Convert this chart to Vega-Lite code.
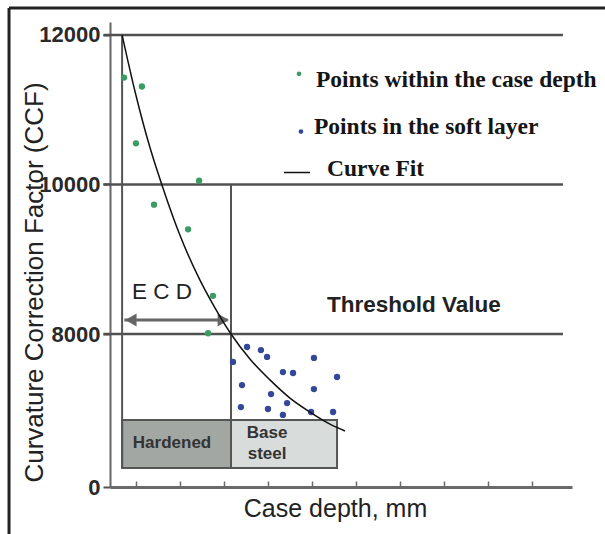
{
  "$schema": "https://vega.github.io/schema/vega-lite/v6.json",
  "width": 462,
  "height": 465,
  "autosize": {"type": "none"},
  "padding": {"left": 110, "top": 22, "right": 33, "bottom": 47},
  "background": "white",
  "config": {"view": {"stroke": null}, "font": "Liberation Sans"},
  "data": {"values": [{}]},
  "datasets": {
    "points": [
      {"depth": 0.44, "ccf": 11430, "layer": "case"},
      {"depth": 1.25, "ccf": 11310, "layer": "case"},
      {"depth": 0.98, "ccf": 10550, "layer": "case"},
      {"depth": 3.85, "ccf": 10050, "layer": "case"},
      {"depth": 1.8, "ccf": 9730, "layer": "case"},
      {"depth": 3.35, "ccf": 9400, "layer": "case"},
      {"depth": 4.48, "ccf": 8510, "layer": "case"},
      {"depth": 4.26, "ccf": 8010, "layer": "case"},
      {"depth": 5.39, "ccf": 6540, "layer": "soft"},
      {"depth": 6.03, "ccf": 7320, "layer": "soft"},
      {"depth": 6.66, "ccf": 7160, "layer": "soft"},
      {"depth": 6.94, "ccf": 6800, "layer": "soft"},
      {"depth": 7.66, "ccf": 6010, "layer": "soft"},
      {"depth": 8.12, "ccf": 5960, "layer": "soft"},
      {"depth": 5.8, "ccf": 5330, "layer": "soft"},
      {"depth": 7.12, "ccf": 4860, "layer": "soft"},
      {"depth": 7.85, "ccf": 4390, "layer": "soft"},
      {"depth": 5.75, "ccf": 4180, "layer": "soft"},
      {"depth": 6.98, "ccf": 4080, "layer": "soft"},
      {"depth": 7.66, "ccf": 3770, "layer": "soft"},
      {"depth": 9.07, "ccf": 6750, "layer": "soft"},
      {"depth": 10.12, "ccf": 5750, "layer": "soft"},
      {"depth": 9.07, "ccf": 5120, "layer": "soft"},
      {"depth": 8.94, "ccf": 3920, "layer": "soft"},
      {"depth": 9.94, "ccf": 3920, "layer": "soft"}
    ],
    "fit": [
      {"depth": 0.35, "ccf": 12000},
      {"depth": 0.94, "ccf": 11240},
      {"depth": 1.62, "ccf": 10490},
      {"depth": 2.21, "ccf": 9950},
      {"depth": 2.98, "ccf": 9320},
      {"depth": 3.89, "ccf": 8720},
      {"depth": 4.57, "ccf": 8350},
      {"depth": 5.3, "ccf": 8000},
      {"depth": 6.16, "ccf": 6690},
      {"depth": 7.07, "ccf": 5600},
      {"depth": 7.98, "ccf": 4650},
      {"depth": 8.89, "ccf": 3920},
      {"depth": 9.8, "ccf": 3290},
      {"depth": 10.48, "ccf": 2930}
    ],
    "grid": [{"ccf": 12000}, {"ccf": 10000}, {"ccf": 8000}]
  },
  "layer": [
    {
      "mark": {"type": "rule", "color": "#222222", "strokeWidth": 3},
      "encoding": {
        "x": {"datum": -4.79},
        "y": {"datum": 12360},
        "y2": {"datum": -3000}
      }
    },
    {
      "mark": {"type": "rule", "color": "#222222", "strokeWidth": 3},
      "encoding": {
        "x": {"datum": -4.79},
        "x2": {"datum": 30},
        "y": {"datum": 12360}
      }
    },
    {
      "data": {"name": "grid"},
      "mark": {"type": "rule", "color": "#505050", "strokeWidth": 2.5},
      "encoding": {
        "x": {"datum": -0.5},
        "x2": {"datum": 20.39},
        "y": {"field": "ccf", "type": "quantitative"}
      }
    },
    {
      "mark": {"type": "rect", "fill": "#a3a7a3", "stroke": "#555555", "strokeWidth": 2},
      "encoding": {
        "x": {"datum": 0.35},
        "x2": {"datum": 5.3},
        "y": {"datum": 3500},
        "y2": {"datum": 1000}
      }
    },
    {
      "mark": {"type": "rect", "fill": "#d8dcdb", "stroke": "#555555", "strokeWidth": 2},
      "encoding": {
        "x": {"datum": 5.3},
        "x2": {"datum": 10.12},
        "y": {"datum": 3500},
        "y2": {"datum": 1000}
      }
    },
    {
      "mark": {"type": "rule", "color": "#555555", "strokeWidth": 2},
      "encoding": {
        "x": {"datum": 0.35},
        "y": {"datum": 12000},
        "y2": {"datum": 1000}
      }
    },
    {
      "mark": {"type": "rule", "color": "#555555", "strokeWidth": 2},
      "encoding": {
        "x": {"datum": 5.3},
        "y": {"datum": 10000},
        "y2": {"datum": 1000}
      }
    },
    {
      "mark": {"type": "rule", "color": "#666666", "strokeWidth": 3},
      "encoding": {
        "x": {"datum": 0.45},
        "x2": {"datum": 5.15},
        "y": {"datum": 8187}
      }
    },
    {
      "mark": {"type": "point", "shape": "triangle-left", "filled": true, "color": "#666666", "size": 170, "opacity": 1},
      "encoding": {"x": {"datum": 0.75}, "y": {"datum": 8187}}
    },
    {
      "mark": {"type": "point", "shape": "triangle-right", "filled": true, "color": "#666666", "size": 170, "opacity": 1},
      "encoding": {"x": {"datum": 4.95}, "y": {"datum": 8187}}
    },
    {
      "data": {"name": "points"},
      "mark": {"type": "circle", "size": 40, "opacity": 1},
      "encoding": {
        "x": {
          "field": "depth",
          "type": "quantitative",
          "title": "Case depth, mm",
          "scale": {"domain": [-0.2, 20.8], "nice": false, "zero": false},
          "axis": {
            "values": [1, 2, 3, 4, 5, 6, 7, 8, 9, 10, 11, 12, 13, 14, 15, 16, 17, 18, 19, 20],
            "labels": false,
            "labelOverlap": false,
            "grid": false,
            "domainColor": "#6a6a6a",
            "domainWidth": 3,
            "tickColor": "#6a6a6a",
            "tickWidth": 1.5,
            "tickSize": -6,
            "titleFont": "Liberation Sans",
            "titleFontWeight": "normal",
            "titleFontSize": 25,
            "titleColor": "#222222",
            "titleX": 225,
            "titleY": 29,
            "titleAlign": "center",
            "titleBaseline": "alphabetic"
          }
        },
        "y": {
          "field": "ccf",
          "type": "quantitative",
          "title": "Curvature Correction Factor (CCF)",
          "scale": {"domain": [0, 8000, 12173], "range": [465, 312, 0], "nice": false, "zero": false},
          "axis": {
            "values": [0, 8000, 10000, 12000],
            "format": "d",
            "grid": false,
            "labelOverlap": false,
            "labelFlush": false,
            "domainColor": "#666666",
            "domainWidth": 2,
            "tickColor": "#555555",
            "tickWidth": 2,
            "tickSize": 7,
            "labelFont": "Liberation Sans",
            "labelFontWeight": "bold",
            "labelFontSize": 22,
            "labelColor": "#2a2a2a",
            "labelPadding": 3,
            "titleFont": "Liberation Sans",
            "titleFontWeight": "normal",
            "titleFontSize": 26,
            "titleColor": "#222222",
            "titleAngle": -90,
            "titleX": -68,
            "titleY": 260,
            "titleAlign": "center",
            "titleBaseline": "alphabetic"
          }
        },
        "color": {
          "field": "layer",
          "type": "nominal",
          "scale": {"domain": ["case", "soft"], "range": ["#3b9b62", "#34489a"]},
          "legend": null
        }
      }
    },
    {
      "data": {"name": "fit"},
      "mark": {"type": "line", "color": "#111111", "strokeWidth": 1.5, "interpolate": "monotone"},
      "encoding": {
        "x": {"field": "depth", "type": "quantitative"},
        "y": {"field": "ccf", "type": "quantitative"}
      }
    },
    {
      "mark": {"type": "circle", "size": 22, "color": "#3b9b62", "opacity": 1},
      "encoding": {"x": {"datum": 8.39}, "y": {"datum": 11480}}
    },
    {
      "mark": {"type": "circle", "size": 22, "color": "#34489a", "opacity": 1},
      "encoding": {"x": {"datum": 8.48}, "y": {"datum": 10707}}
    },
    {
      "mark": {"type": "rule", "color": "#111111", "strokeWidth": 1.5},
      "encoding": {"x": {"datum": 7.71}, "x2": {"datum": 8.89}, "y": {"datum": 10160}}
    },
    {
      "mark": {"type": "text", "text": "Points within the case depth", "font": "Liberation Serif", "fontWeight": "bold", "fontSize": 23.5, "color": "#151515", "align": "left", "baseline": "middle"},
      "encoding": {"x": {"datum": 9.16}, "y": {"datum": 11400}}
    },
    {
      "mark": {"type": "text", "text": "Points in the soft layer", "font": "Liberation Serif", "fontWeight": "bold", "fontSize": 23.5, "color": "#151515", "align": "left", "baseline": "middle"},
      "encoding": {"x": {"datum": 9.07}, "y": {"datum": 10773}}
    },
    {
      "mark": {"type": "text", "text": "Curve Fit", "font": "Liberation Serif", "fontWeight": "bold", "fontSize": 23.5, "color": "#151515", "align": "left", "baseline": "middle"},
      "encoding": {"x": {"datum": 9.66}, "y": {"datum": 10213}}
    },
    {
      "mark": {"type": "text", "text": "Threshold Value", "font": "Liberation Sans", "fontWeight": "bold", "fontSize": 22.5, "color": "#222222", "align": "left", "baseline": "middle"},
      "encoding": {"x": {"datum": 9.66}, "y": {"datum": 8387}}
    },
    {
      "mark": {"type": "text", "text": "E C D", "font": "Liberation Sans", "fontSize": 22.5, "color": "#222222", "align": "left", "baseline": "middle"},
      "encoding": {"x": {"datum": 0.8}, "y": {"datum": 8560}}
    },
    {
      "mark": {"type": "text", "text": "Hardened", "font": "Liberation Sans", "fontWeight": "bold", "fontSize": 17, "color": "#333333", "align": "center", "baseline": "middle"},
      "encoding": {"x": {"datum": 2.62}, "y": {"datum": 2300}}
    },
    {
      "mark": {"type": "text", "text": ["Base", "steel"], "lineHeight": 21, "font": "Liberation Sans", "fontWeight": "bold", "fontSize": 17, "color": "#333333", "align": "center", "baseline": "middle"},
      "encoding": {"x": {"datum": 6.94}, "y": {"datum": 2824}}
    }
  ]
}
